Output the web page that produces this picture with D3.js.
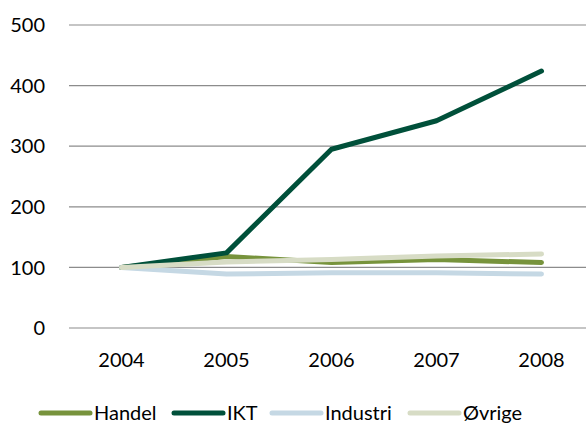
<!DOCTYPE html>
<html>
<head>
<meta charset="utf-8">
<script src="https://cdn.jsdelivr.net/npm/d3@7"></script>
<style>
  body { margin: 0; background: #fff; }
  text { font-family: Lato, "Open Sans", sans-serif; fill: #000; }
</style>
</head>
<body>
<div id="chart"></div>
<script>
const years = ["2004", "2005", "2006", "2007", "2008"];
const seriesNames = ["Handel", "IKT", "Industri", "Øvrige"];
const handel = [100, 118, 108, 113, 108];
const ikt = [100, 124, 295, 342, 424];
const industri = [100, 89, 91, 91, 89];
const ovrige = [100, 109, 113, 119, 122];
const yTicks = [0, 100, 200, 300, 400, 500];
const colors = ["#77933c", "#00503a", "#c5d8e4", "#d7dcc5"];

const width = 586, height = 423;
const margin = {top: 25, right: -8, bottom: 95, left: 69};

let svg = d3.select("#chart")
    .append("svg")
    .attr("width", width)
    .attr("height", height);

let x = d3.scaleBand()
    .domain(years)
    .range([margin.left, width - margin.right]);

let y = d3.scaleLinear()
    .domain([0, 500])
    .range([height - margin.bottom, margin.top]);

// gridlines
svg.append("g")
    .selectAll("line")
    .data(yTicks)
    .enter()
    .append("line")
    .attr("x1", margin.left)
    .attr("x2", width)
    .attr("y1", d => y(d))
    .attr("y2", d => y(d))
    .attr("stroke", "#8c8c8c")
    .attr("stroke-width", 1.2);

// y labels
svg.append("g")
    .selectAll("text")
    .data(yTicks)
    .enter()
    .append("text")
    .attr("x", 45)
    .attr("y", d => y(d))
    .attr("dy", "0.36em")
    .style("text-anchor", "end")
    .style("font-size", "20px")
    .text(d => d);

// x labels
svg.append("g")
    .selectAll("text")
    .data(years)
    .enter()
    .append("text")
    .attr("x", d => x(d) + x.bandwidth() / 2)
    .attr("y", 367)
    .style("text-anchor", "middle")
    .style("font-size", "20px")
    .text(d => d);

const allSeries = [handel, ikt, industri, ovrige];

let line = d3.line()
    .x((d, i) => x(years[i]) + x.bandwidth() / 2)
    .y(d => y(d));

svg.append("g")
    .selectAll("path")
    .data(allSeries)
    .enter()
    .append("path")
    .attr("d", d => line(d))
    .attr("fill", "none")
    .attr("stroke", (d, i) => colors[i])
    .attr("stroke-width", 5)
    .attr("stroke-linecap", "round")
    .attr("stroke-linejoin", "round");

// legend
const legendX = [41, 174, 272, 410];
let legend = svg.append("g")
    .selectAll("g")
    .data(seriesNames)
    .enter()
    .append("g")
    .attr("transform", (d, i) => `translate(${legendX[i]}, 413)`);

legend.append("line")
    .attr("x1", 0)
    .attr("x2", 49)
    .attr("stroke", (d, i) => colors[i])
    .attr("stroke-width", 5)
    .attr("stroke-linecap", "round");

legend.append("text")
    .attr("x", 53)
    .attr("y", 7)
    .style("font-size", "20px")
    .text(d => d);
</script>
</body>
</html>
